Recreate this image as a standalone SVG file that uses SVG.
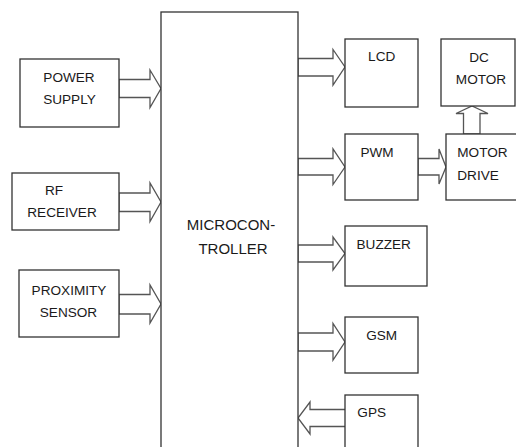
<svg xmlns="http://www.w3.org/2000/svg" width="516" height="447" viewBox="0 0 516 447">
<style>
.box{fill:#fff;stroke:#333;stroke-width:1.3}
.arr{fill:#fff;stroke:#555;stroke-width:1.3;stroke-linejoin:miter}
.t{font-family:"Liberation Sans",Arial,sans-serif;font-size:13.6px;fill:#1a1a1a}
.c{text-anchor:middle}
.big{font-size:15px}
</style>
<rect width="516" height="447" fill="#fff"/>
<g id="connectors">
<polygon class="arr" points="119,79.5 150,79.5 150,70 161,88.5 150,107.5 150,97.5 119,97.5"/>
<polygon class="arr" points="119,193 150,193 150,183 161,202 150,221.5 150,211.5 119,211.5"/>
<polygon class="arr" points="119,294.5 150,294.5 150,285 161,304 150,323 150,314 119,314"/>
<polygon class="arr" points="298,58.5 333,58.5 333,49.5 345,67 333,85 333,76 298,76"/>
<polygon class="arr" points="298,158.5 333,158.5 333,149 345,167 333,184.5 333,175 298,175"/>
<polygon class="arr" points="418,158.5 439,158.5 439,149 446,167 439,184 439,175 418,175"/>
<polygon class="arr" points="463.5,134 463.5,113.5 456,113.5 472,106 488,113.5 480,113.5 480,134"/>
<polygon class="arr" points="298,245 333,245 333,237 345,253.5 333,270 333,262 298,262"/>
<polygon class="arr" points="298,333 333,333 333,323.5 345,342 333,360 333,351 298,351"/>
<polygon class="arr" points="346,409.5 310,409.5 310,402 298,418 310,434 310,426.5 346,426.5"/>
</g>
<g id="mcu">
<rect class="box" x="161" y="12" width="137" height="445"/>
<text class="t big c" x="231" y="230">MICROCON-</text>
<text class="t big c" x="233" y="254">TROLLER</text>
</g>
<g id="power">
<rect class="box" x="20" y="59" width="99" height="68"/>
<text class="t c" x="69" y="82">POWER</text>
<text class="t c" x="69.5" y="103.5">SUPPLY</text>
</g>
<g id="rf">
<rect class="box" x="12" y="173" width="107" height="57"/>
<text class="t c" x="54" y="195">RF</text>
<text class="t c" x="62" y="216.5">RECEIVER</text>
</g>
<g id="prox">
<rect class="box" x="19" y="270" width="100" height="67"/>
<text class="t c" x="69" y="295">PROXIMITY</text>
<text class="t c" x="68.5" y="316.5">SENSOR</text>
</g>
<g id="lcd">
<rect class="box" x="345" y="39" width="73" height="68"/>
<text class="t c" x="381.7" y="61">LCD</text>
</g>
<g id="dcmotor">
<rect class="box" x="441" y="39" width="74" height="67"/>
<text class="t c" x="479" y="62">DC</text>
<text class="t c" x="481" y="84">MOTOR</text>
</g>
<g id="pwm">
<rect class="box" x="345" y="134" width="73" height="66"/>
<text class="t c" x="377" y="157">PWM</text>
</g>
<g id="motordrive">
<rect class="box" x="446" y="134" width="75" height="66"/>
<text class="t" x="457.3" y="157">MOTOR</text>
<text class="t" x="457.3" y="179.5">DRIVE</text>
</g>
<g id="buzzer">
<rect class="box" x="345" y="226" width="82" height="60"/>
<text class="t c" x="383.7" y="249">BUZZER</text>
</g>
<g id="gsm">
<rect class="box" x="345" y="317" width="73" height="56"/>
<text class="t c" x="381.7" y="339.5">GSM</text>
</g>
<g id="gps">
<rect class="box" x="345" y="395" width="73" height="70"/>
<text class="t c" x="371.7" y="417">GPS</text>
</g>
</svg>
